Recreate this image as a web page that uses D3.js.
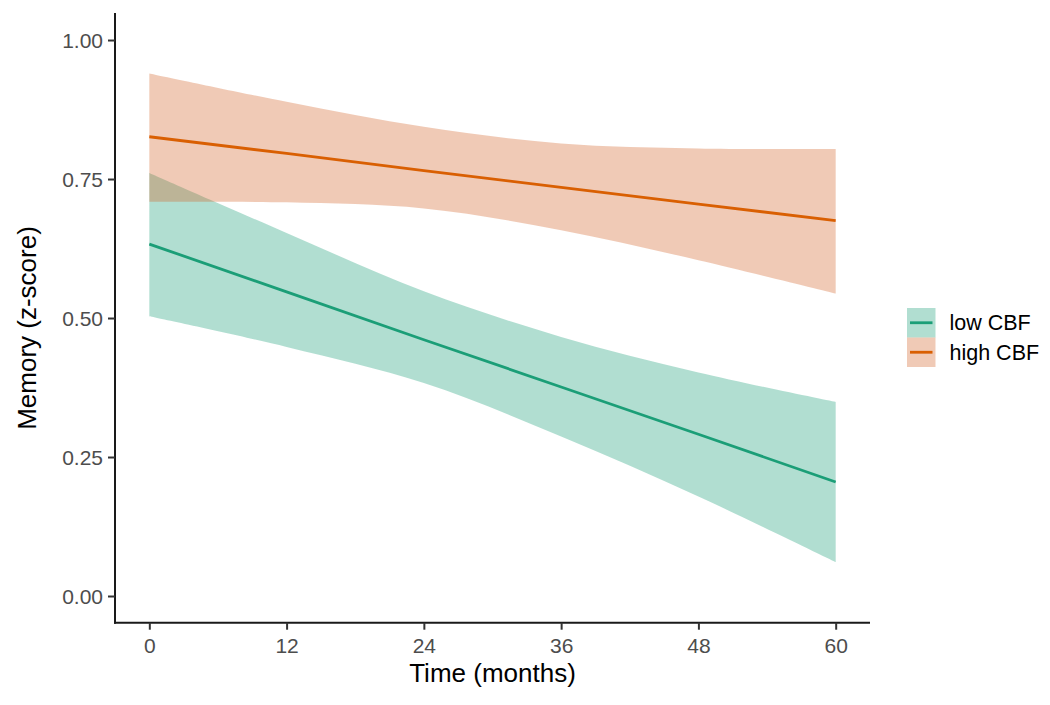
<!DOCTYPE html>
<html>
<head>
<meta charset="utf-8">
<script src="https://cdn.jsdelivr.net/npm/d3@7"></script>
<style>
  html, body { margin: 0; padding: 0; background: #fff; }
  svg { display: block; font-family: "Liberation Sans", Arial, sans-serif; }
</style>
</head>
<body>
<svg id="chart" width="1050" height="705"></svg>
<script>
// ---- data ----
const months = [0, 12, 24, 36, 48, 60];
const seriesNames = ["low CBF", "high CBF"];
const lowFit   = [0.633, 0.547, 0.461, 0.376, 0.291, 0.205];
const lowUpper = [0.761, 0.653, 0.548, 0.466, 0.402, 0.349];
const lowLower = [0.503, 0.448, 0.383, 0.287, 0.179, 0.061];
const highFit   = [0.826, 0.796, 0.765, 0.735, 0.705, 0.675];
const highUpper = [0.940, 0.889, 0.844, 0.814, 0.805, 0.804];
const highLower = [0.709, 0.708, 0.697, 0.658, 0.604, 0.544];
const xTicks = [0, 12, 24, 36, 48, 60];
const yTicks = [0.00, 0.25, 0.50, 0.75, 1.00];
const xTitle = "Time (months)";
const yTitle = "Memory (z-score)";

const colors = ["#1B9E77", "#D95F02"];
const ribbonColors = ["#1B9E77", "#D4652A"];
const series = [
  { name: seriesNames[0], fit: lowFit, up: lowUpper, lo: lowLower, color: colors[0], fill: ribbonColors[0] },
  { name: seriesNames[1], fit: highFit, up: highUpper, lo: highLower, color: colors[1], fill: ribbonColors[1] }
];

const svg = d3.select("#chart");
const panel = { left: 115, right: 870, top: 13, bottom: 622.7 };

const x = d3.scaleLinear().domain([-3, 63]).range([panel.left, panel.right]);
const y = d3.scaleLinear().domain([-0.048, 1.0486]).range([panel.bottom, panel.top]);

const ribbonAlpha = 0.34;

// ribbons and lines
series.forEach(s => {
  const pts = months.map((m, i) => ({ m, fit: s.fit[i], up: s.up[i], lo: s.lo[i] }));
  const area = d3.area()
    .x(d => x(d.m)).y0(d => y(d.lo)).y1(d => y(d.up))
    .curve(d3.curveCatmullRom.alpha(0.5));
  svg.append("path").datum(pts)
    .attr("d", area)
    .attr("fill", s.fill)
    .attr("fill-opacity", ribbonAlpha);
  const line = d3.line().x(d => x(d.m)).y(d => y(d.fit));
  svg.append("path").datum(pts)
    .attr("d", line)
    .attr("fill", "none")
    .attr("stroke", s.color)
    .attr("stroke-width", 2.8);
});

// axes
const xAxis = d3.axisBottom(x).tickValues(xTicks).tickSizeOuter(0).tickSize(7).tickPadding(4)
  .tickFormat(d3.format("d"));
const gx = svg.append("g").attr("transform", `translate(0,${panel.bottom})`).call(xAxis);
const yAxis = d3.axisLeft(y).tickValues(yTicks).tickSizeOuter(0).tickSize(7).tickPadding(5)
  .tickFormat(d3.format(".2f"));
const gy = svg.append("g").attr("transform", `translate(${panel.left},0)`).call(yAxis);

[gx, gy].forEach(g => {
  g.select(".domain").attr("stroke", "#1a1a1a").attr("stroke-width", 2);
  g.selectAll(".tick line").attr("stroke", "#333").attr("stroke-width", 2);
  g.selectAll(".tick text").attr("fill", "#4D4D4D").style("font-size", "21px")
    .style("font-family", "'Liberation Sans', Arial, sans-serif");
});
gy.select(".domain").attr("d", `M0,${panel.top}V${panel.bottom + 1}`);
gx.select(".domain").attr("d", `M${panel.left - 1},0H${panel.right}`);
gx.selectAll(".tick text").attr("dy", "0").attr("y", 30.5);
gy.selectAll(".tick text").attr("dy", "0.36em");

// axis titles
svg.append("text")
  .attr("x", (panel.left + panel.right) / 2)
  .attr("y", 682)
  .attr("text-anchor", "middle")
  .style("font-size", "26px")
  .attr("fill", "#000")
  .text(xTitle);
svg.append("text")
  .attr("transform", `translate(36,328) rotate(-90)`)
  .attr("text-anchor", "middle")
  .style("font-size", "26px")
  .attr("fill", "#000")
  .text(yTitle);

// legend
const legend = svg.append("g").attr("transform", "translate(907,308)");
const keyW = 28.5, keyH = 29.5;
series.forEach((s, i) => {
  const g = legend.append("g").attr("transform", `translate(0,${i * keyH})`);
  g.append("rect").attr("width", keyW).attr("height", keyH)
    .attr("fill", s.fill).attr("fill-opacity", ribbonAlpha);
  g.append("line").attr("x1", 3).attr("x2", keyW - 3)
    .attr("y1", keyH / 2).attr("y2", keyH / 2)
    .attr("stroke", s.color).attr("stroke-width", 2.8);
  g.append("text").attr("x", keyW + 14).attr("y", keyH / 2)
    .attr("dy", "0.36em")
    .style("font-size", "21.5px").attr("fill", "#000")
    .text(s.name);
});
</script>
</body>
</html>
